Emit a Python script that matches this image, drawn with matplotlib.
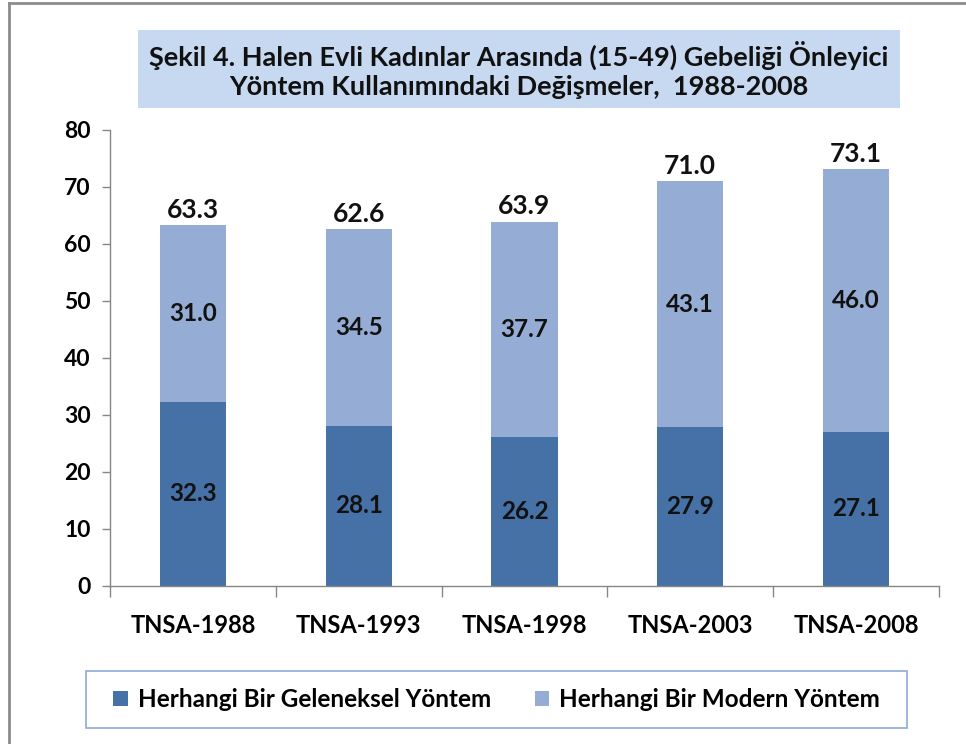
import numpy as np
import matplotlib.pyplot as plt
from matplotlib.patches import Rectangle
from matplotlib.lines import Line2D

plt.rcParams['font.family'] = ['Lato', 'DejaVu Sans']

# data
surveys = ['TNSA-1988', 'TNSA-1993', 'TNSA-1998', 'TNSA-2003', 'TNSA-2008']
geleneksel = [32.3, 28.1, 26.2, 27.9, 27.1]
modern = [31.0, 34.5, 37.7, 43.1, 46.0]
toplam = [63.3, 62.6, 63.9, 71.0, 73.1]
series_names = ['Herhangi Bir Geleneksel Yöntem', 'Herhangi Bir Modern Yöntem']
title_lines = 'Şekil 4. Halen Evli Kadınlar Arasında (15-49) Gebeliği Önleyici\nYöntem Kullanımındaki Değişmeler,  1988-2008'

dark = '#4671A7'
light = '#95ADD4'
grey = '#868686'

fig = plt.figure(figsize=(9.66, 7.44), dpi=100)
ax = fig.add_axes([0.1139, 0.2124, 0.858, 0.6129])

x = np.arange(len(surveys))
w = 0.4
b1 = ax.bar(x, geleneksel, w, color=dark, label=series_names[0])
b2 = ax.bar(x, modern, w, bottom=geleneksel, color=light, label=series_names[1])

for i in range(len(surveys)):
    ax.text(x[i], geleneksel[i] / 2, f'{geleneksel[i]:.1f}', ha='center', va='center',
            fontsize=17.5, fontweight='bold', color='#111111')
    ax.text(x[i], geleneksel[i] + modern[i] / 2, f'{modern[i]:.1f}', ha='center', va='center',
            fontsize=17.5, fontweight='bold', color='#111111')
    ax.text(x[i], toplam[i] + 0.6, f'{toplam[i]:.1f}', ha='center', va='bottom',
            fontsize=19, fontweight='bold', color='#111111')

ax.set_xlim(-0.5, len(surveys) - 0.5)
ax.set_ylim(0, 80)
ax.set_yticks(np.arange(0, 81, 10))
ax.tick_params(axis='y', labelsize=16.5, length=6, color=grey, width=1, pad=8)
for lab in ax.get_yticklabels():
    lab.set_fontweight('bold')

ax.set_xticks(np.arange(-0.5, len(surveys), 1))
ax.set_xticklabels([])
ax.tick_params(axis='x', which='major', length=8, color=grey, width=1)
ax.set_xticks(x, minor=True)
ax.set_xticklabels(surveys, minor=True, fontsize=17, fontweight='bold')
ax.tick_params(axis='x', which='minor', length=0, pad=20)

for s in ['top', 'right']:
    ax.spines[s].set_visible(False)
for s in ['left', 'bottom']:
    ax.spines[s].set_color(grey)
    ax.spines[s].set_linewidth(1)

# title box
fig.patches.append(Rectangle((0.1429, 0.8548), 0.789, 0.1048, transform=fig.transFigure,
                             facecolor='#C6D9F1', edgecolor='none'))
fig.text(0.537, 0.9055, title_lines, ha='center', va='center', fontsize=19.5,
         fontweight='bold', linespacing=1.25, color='#111111')

# legend box
fig.patches.append(Rectangle((0.089, 0.0215), 0.85, 0.0766, transform=fig.transFigure,
                             facecolor='white', edgecolor='#8EAADB', linewidth=1.2))
leg = fig.legend(handles=[b1, b2], loc='center', bbox_to_anchor=(0.514, 0.0598), ncol=2,
                 frameon=False, fontsize=17.5, handlelength=0.6, handleheight=0.6,
                 handletextpad=0.4, columnspacing=1.8)
for t in leg.get_texts():
    t.set_fontweight('bold')

# outer border
fig.add_artist(Line2D([0.0093, 0.0093], [0, 0.996], transform=fig.transFigure, color='#8C8C8C', lw=2))
fig.add_artist(Line2D([0.0093, 1], [0.996, 0.996], transform=fig.transFigure, color='#8C8C8C', lw=2))

fig.savefig('out.png', dpi=100)
